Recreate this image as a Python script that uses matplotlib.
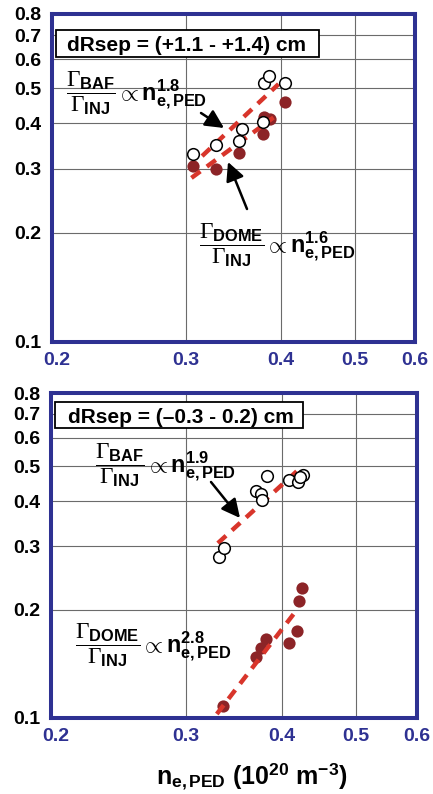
import matplotlib
matplotlib.use('Agg')
import matplotlib.pyplot as plt
from matplotlib.patches import Rectangle, FancyArrowPatch
from matplotlib.ticker import FixedLocator, FixedFormatter, NullLocator
import matplotlib.transforms as mtransforms

plt.rcParams['font.family'] = ['Liberation Sans', 'DejaVu Sans']
plt.rcParams['mathtext.fontset'] = 'custom'
plt.rcParams['mathtext.rm'] = 'Liberation Serif'
plt.rcParams['mathtext.it'] = 'Liberation Serif:italic'
plt.rcParams['mathtext.bf'] = 'Liberation Sans:bold'
plt.rcParams['mathtext.sf'] = 'Liberation Sans:bold'

W, H = 433, 794

# ---------------- data ----------------
x_ticks = [0.2, 0.3, 0.4, 0.5, 0.6]
x_tick_labels = ['0.2', '0.3', '0.4', '0.5', '0.6']
y_ticks = [0.1, 0.2, 0.3, 0.4, 0.5, 0.6, 0.7, 0.8]
y_tick_labels = ['0.1', '0.2', '0.3', '0.4', '0.5', '0.6', '0.7', '0.8']

top_baf_x = [0.306, 0.329, 0.355, 0.352, 0.379, 0.380, 0.386, 0.405]
top_baf_y = [0.330, 0.348, 0.387, 0.357, 0.403, 0.518, 0.540, 0.516]
top_dome_x = [0.306, 0.329, 0.352, 0.379, 0.380, 0.387, 0.405]
top_dome_y = [0.305, 0.300, 0.332, 0.375, 0.417, 0.410, 0.458]
top_baf_fit_x = [0.315, 0.397]
top_baf_fit_y = [0.325, 0.513]
top_dome_fit_x = [0.305, 0.391]
top_dome_fit_y = [0.283, 0.415]

bot_baf_x = [0.331, 0.336, 0.370, 0.382, 0.376, 0.377, 0.408, 0.420, 0.426, 0.422]
bot_baf_y = [0.280, 0.297, 0.427, 0.469, 0.420, 0.403, 0.459, 0.452, 0.472, 0.467]
bot_dome_x = [0.335, 0.370, 0.376, 0.381, 0.409, 0.419, 0.421, 0.425]
bot_dome_y = [0.108, 0.148, 0.156, 0.166, 0.162, 0.175, 0.212, 0.230]
bot_baf_fit_x = [0.330, 0.424]
bot_baf_fit_y = [0.306, 0.498]
bot_dome_fit_x = [0.329, 0.420]
bot_dome_fit_y = [0.1026, 0.202]

top_title = 'dRsep = (+1.1 - +1.4) cm'
bot_title = 'dRsep = (\u20130.3 - 0.2) cm'
top_baf_exp, top_dome_exp = '1.8', '1.6'
bot_baf_exp, bot_dome_exp = '1.9', '2.8'

# ---------------- style ----------------
FRAME = '#2E3192'
RED = '#D8352B'
DARK = '#8C2427'

fig = plt.figure(figsize=(W / 100, H / 100), dpi=100)


def fx(x):
    return x / W


def fy(y):
    return 1 - y / H


def make_ax(l, t, r, b):
    ax = fig.add_axes([fx(l), fy(b), (r - l) / W, (b - t) / H])
    ax.set_xscale('log')
    ax.set_yscale('log')
    ax.set_xlim(0.2, 0.6)
    ax.set_ylim(0.1, 0.8)
    ax.xaxis.set_major_locator(FixedLocator(x_ticks))
    ax.xaxis.set_major_formatter(FixedFormatter(x_tick_labels))
    ax.yaxis.set_major_locator(FixedLocator(y_ticks))
    ax.yaxis.set_major_formatter(FixedFormatter(y_tick_labels))
    ax.xaxis.set_minor_locator(NullLocator())
    ax.yaxis.set_minor_locator(NullLocator())
    ax.tick_params(axis='both', length=0)
    ax.tick_params(axis='y', pad=8, labelsize=14, labelcolor='black')
    ax.tick_params(axis='x', pad=7, labelsize=14, labelcolor=FRAME)
    for lab in ax.get_xticklabels() + ax.get_yticklabels():
        lab.set_fontweight('bold')
    ax.grid(True, color='#6b6b6b', lw=0.8)
    ax.set_axisbelow(True)
    for sp in ax.spines.values():
        sp.set_color(FRAME)
        sp.set_linewidth(2.9)
        sp.set_zorder(5)
    return ax


def panel(ax, bx, by, dx, dy, fbx, fby, fdx, fdy):
    ax.plot(dx, dy, 'o', ms=8.8, mfc=DARK, mec=DARK, mew=0, zorder=3, clip_on=False)
    ax.plot(fbx, fby, color=RED, lw=3.2, dashes=(2.5, 1.8), zorder=4)
    ax.plot(fdx, fdy, color=RED, lw=3.2, dashes=(2.5, 1.8), zorder=4)
    ax.plot(bx, by, 'o', ms=8.4, mfc='white', mec='black', mew=1.1, zorder=6)


ax1 = make_ax(52, 14, 415, 342)
panel(ax1, top_baf_x, top_baf_y, top_dome_x, top_dome_y,
      top_baf_fit_x, top_baf_fit_y, top_dome_fit_x, top_dome_fit_y)
ax2 = make_ax(51, 393, 417, 718)
panel(ax2, bot_baf_x, bot_baf_y, bot_dome_x, bot_dome_y,
      bot_baf_fit_x, bot_baf_fit_y, bot_dome_fit_x, bot_dome_fit_y)

for ax in (ax1, ax2):
    labs = ax.get_xticklabels()
    labs[0].set_transform(labs[0].get_transform() +
                          mtransforms.ScaledTranslation(5 / 100, 0, fig.dpi_scale_trans))


# ---------------- annotations ----------------
def box_text(l, t, r, b, txt, tx):
    fig.add_artist(Rectangle((fx(l), fy(b)), (r - l) / W, (b - t) / H,
                             transform=fig.transFigure, facecolor='white',
                             edgecolor='black', lw=1.3, zorder=10))
    fig.text(fx(tx), fy((t + b) / 2), txt, ha='left', va='center_baseline',
             fontsize=15, fontweight='bold', zorder=11)


box_text(56, 30, 319, 57, top_title, 67)
box_text(55, 402, 303, 428, bot_title, 68)


def ratio(x, y, name, exp, fs=16.8):
    s = (r'$\dfrac{\Gamma_{\mathbf{%s}}}{\Gamma_{\mathbf{INJ}}}\propto\mathbf{n}'
         r'_{\mathbf{e,PED}}^{\mathbf{%s}}$' % (name, exp))
    fig.text(fx(x), fy(y), s, ha='left', va='center', fontsize=fs, zorder=11)


ratio(66, 93, 'BAF', top_baf_exp)
ratio(199, 245, 'DOME', top_dome_exp)
ratio(95, 465, 'BAF', bot_baf_exp)
ratio(75, 645, 'DOME', bot_dome_exp)


def arrow(x0, y0, x1, y1):
    fig.add_artist(FancyArrowPatch((fx(x0), fy(y0)), (fx(x1), fy(y1)),
                                   transform=fig.transFigure,
                                   arrowstyle='-|>,head_length=0.8,head_width=0.4',
                                   mutation_scale=14, lw=1.8, color='black',
                                   shrinkA=0, shrinkB=0, zorder=12))


arrow(201, 113, 224, 128)
arrow(247, 209, 228, 162)
arrow(211, 482, 240, 518)

fig.text(fx(252), fy(777),
         r'$\mathbf{n}_{\mathbf{e,PED}}$ (10$^{\mathbf{20}}$ m$^{\mathbf{-3}}$)',
         ha='center', va='center', fontsize=18, fontweight='bold')

fig.savefig('out.png', dpi=100)
